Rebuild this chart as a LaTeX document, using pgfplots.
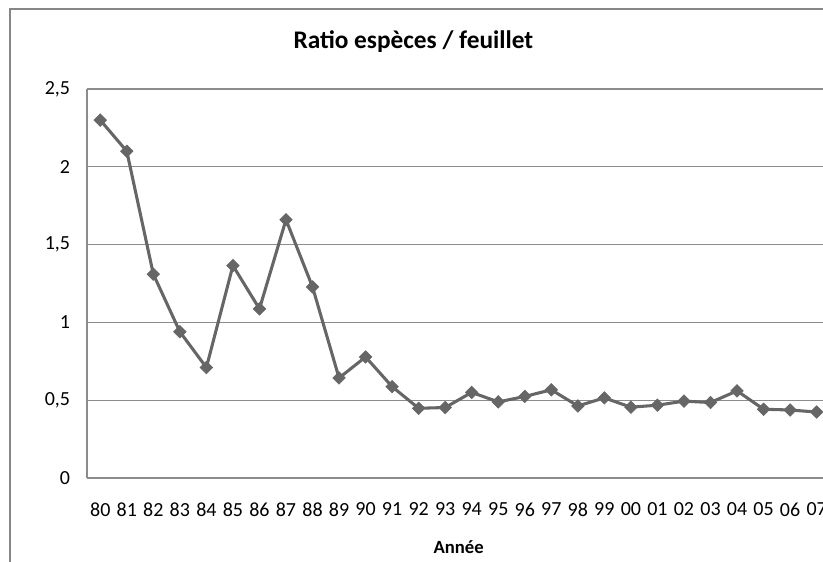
\documentclass[border=0pt]{standalone}
\usepackage{pgfplots}
\pgfplotsset{compat=1.18}
\usepackage{fontspec}
\setmainfont{Carlito}
\definecolor{linegray}{RGB}{102,102,102}
\definecolor{gridgray}{RGB}{140,140,140}
\definecolor{framegray}{RGB}{134,134,134}
\begin{document}
\begin{tikzpicture}
\begin{scope}
\clip (0,0) rectangle (617.25pt,420.75pt);
\draw[framegray, line width=1.2pt] (7.5pt,-5pt) -- (7.5pt,414pt) -- (630pt,414pt);
\node[font=\fontsize{19}{22}\selectfont\bfseries, inner sep=0pt, anchor=base] at (310pt,384pt) {Ratio espèces / feuillet};
\begin{axis}[
  at={(65.25pt,62.25pt)}, anchor=south west,
  scale only axis, width=552pt, height=291.75pt,
  xmin=-0.5, xmax=27.24, ymin=0, ymax=2.5,
  axis x line*=bottom, axis y line*=left,
  axis line style={gridgray, line width=0.8pt},
  ymajorgrids, grid style={gridgray, line width=0.8pt},
  tick style={draw=none}, major tick length=0pt,
  xtick={0,...,27},
  xticklabels={80,81,82,83,84,85,86,87,88,89,90,91,92,93,94,95,96,97,98,99,00,01,02,03,04,05,06,07},
  ytick={0,0.5,1,1.5,2,2.5},
  yticklabels={0,{0,5},1,{1,5},2,{2,5}},
  xticklabel style={font=\fontsize{15}{18}\selectfont, inner sep=0pt, anchor=north, yshift=-18.5pt},
  yticklabel style={font=\fontsize{15}{18}\selectfont, inner sep=0pt, anchor=east, xshift=-12.5pt},
  xlabel={\bfseries Année},
  xlabel style={font=\fontsize{14}{16}\selectfont, inner sep=0pt, at={(axis description cs:0.505,0)}, anchor=base, yshift=-56.25pt},
  clip=false,
]
\addplot[linegray, line width=2.3pt, mark=square*, mark size=3.3pt, mark options={rotate=45, fill=linegray, draw=linegray, line width=0.5pt}]
coordinates {
(0,2.30) (1,2.10) (2,1.31) (3,0.94) (4,0.71) (5,1.365) (6,1.087) (7,1.66)
(8,1.228) (9,0.643) (10,0.778) (11,0.587) (12,0.448) (13,0.453) (14,0.55)
(15,0.489) (16,0.524) (17,0.567) (18,0.463) (19,0.515) (20,0.455) (21,0.468)
(22,0.494) (23,0.485) (24,0.56) (25,0.442) (26,0.437) (27,0.424)
};
\end{axis}
\end{scope}
\pgfresetboundingbox
\path[use as bounding box] (0,0) rectangle (617.25pt,420.75pt);
\end{tikzpicture}
\end{document}
